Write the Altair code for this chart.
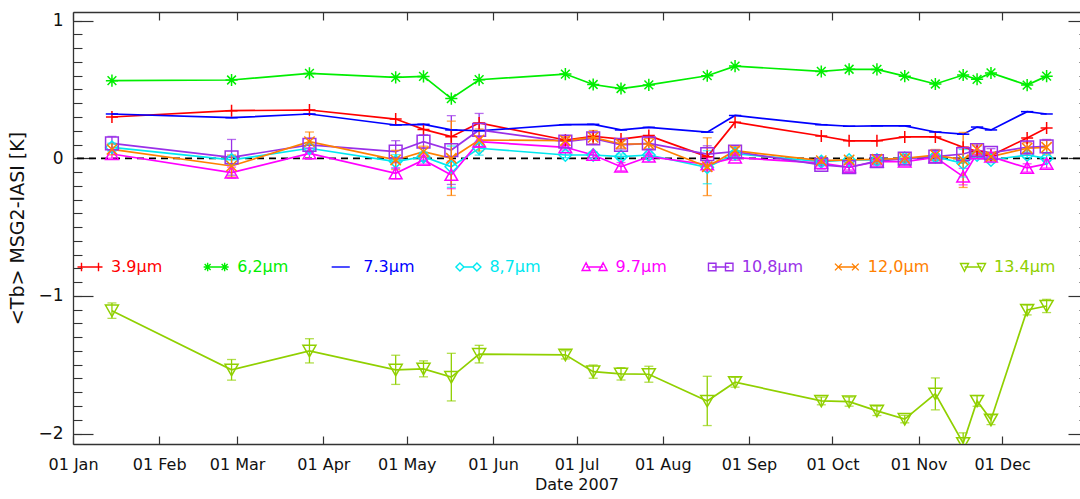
import altair as alt
import pandas as pd

# ---------------- data ----------------
DATES = ["2007-01-15", "2007-02-27", "2007-03-27", "2007-04-27", "2007-05-07",
         "2007-05-17", "2007-05-27", "2007-06-27", "2007-07-07", "2007-07-17",
         "2007-07-27", "2007-08-17", "2007-08-27", "2007-09-27", "2007-10-07",
         "2007-10-17", "2007-10-27", "2007-11-07", "2007-11-17", "2007-11-22",
         "2007-11-27", "2007-12-10", "2007-12-17"]

SERIES = ["3.9\u03bcm", "6,2\u03bcm", "7.3\u03bcm", "8,7\u03bcm",
          "9.7\u03bcm", "10,8\u03bcm", "12,0\u03bcm", "13.4\u03bcm"]

TB_39 = [0.300, 0.346, 0.351, 0.285, 0.210, 0.157, 0.257, 0.133, 0.160, 0.140,
         0.165, 0.012, 0.262, 0.162, 0.127, 0.127, 0.155, 0.155, 0.080, 0.050,
         0.020, 0.148, 0.220]
TB_62 = [0.564, 0.569, 0.617, 0.588, 0.595, 0.434, 0.571, 0.612, 0.536, 0.507,
         0.533, 0.600, 0.670, 0.631, 0.647, 0.646, 0.597, 0.540, 0.605, 0.574,
         0.620, 0.532, 0.597]
TB_73 = [0.322, 0.295, 0.322, 0.242, 0.247, 0.206, 0.200, 0.244, 0.247, 0.206,
         0.225, 0.190, 0.311, 0.244, 0.233, 0.236, 0.236, 0.191, 0.175, 0.227,
         0.206, 0.339, 0.322]
TB_87 = [0.080, -0.012, 0.073, -0.024, 0.012, -0.061, 0.073, 0.024, 0.024, 0.012,
         0.024, -0.065, 0.033, -0.024, -0.012, -0.012, 0.000, 0.012, -0.036, 0.024,
         -0.012, 0.024, 0.000]
TB_97 = [0.031, -0.104, 0.036, -0.109, -0.012, -0.121, 0.121, 0.080, 0.024, -0.061,
         0.012, -0.045, 0.005, -0.035, -0.065, -0.024, -0.024, 0.007, -0.133, 0.036,
         0.012, -0.070, -0.040]
TB_108 = [0.109, 0.007, 0.097, 0.048, 0.121, 0.060, 0.206, 0.121, 0.145, 0.097,
          0.109, 0.031, 0.048, -0.048, -0.065, -0.020, -0.003, 0.012, 0.031, 0.060,
          0.040, 0.080, 0.087]
TB_120 = [0.065, -0.056, 0.121, -0.012, 0.048, 0.000, 0.133, 0.128, 0.152, 0.104,
          0.104, -0.061, 0.055, -0.017, -0.012, -0.007, 0.000, 0.024, -0.012, 0.065,
          0.012, 0.073, 0.080]
TB_134 = [-1.107, -1.537, -1.399, -1.537, -1.530, -1.590, -1.423, -1.428, -1.550, -1.566,
          -1.569, -1.763, -1.627, -1.763, -1.768, -1.835, -1.895, -1.712, -2.070, -1.763,
          -1.900, -1.102, -1.073]

ERR_87 = [0.03, 0.03, 0.03, 0.05, 0.03, 0.15, 0.05, 0.02, 0.02, 0.02, 0.02, 0.12,
          0.02, 0.02, 0.02, 0.02, 0.02, 0.02, 0.10, 0.02, 0.02, 0.02, 0.02]
ERR_97 = [0.03, 0.04, 0.04, 0.04, 0.03, 0.10, 0.04, 0.02, 0.02, 0.03, 0.02, 0.05,
          0.02, 0.02, 0.02, 0.02, 0.02, 0.02, 0.06, 0.02, 0.02, 0.03, 0.03]
ERR_108 = [0.05, 0.13, 0.05, 0.08, 0.05, 0.25, 0.12, 0.03, 0.04, 0.03, 0.04, 0.06,
           0.03, 0.03, 0.03, 0.03, 0.03, 0.04, 0.05, 0.03, 0.03, 0.04, 0.05]
ERR_120 = [0.04, 0.08, 0.07, 0.07, 0.04, 0.27, 0.08, 0.03, 0.05, 0.03, 0.04, 0.21,
           0.03, 0.02, 0.02, 0.03, 0.03, 0.04, 0.20, 0.04, 0.03, 0.04, 0.05]
ERR_134 = [0.056, 0.075, 0.088, 0.106, 0.058, 0.173, 0.064, 0.030, 0.048, 0.045,
           0.058, 0.179, 0.036, 0.028, 0.033, 0.034, 0.027, 0.116, 0.075, 0.039,
           0.035, 0.036, 0.048]

VALUES = [TB_39, TB_62, TB_73, TB_87, TB_97, TB_108, TB_120, TB_134]
ERRORS = [None, None, None, ERR_87, ERR_97, ERR_108, ERR_120, ERR_134]

ZERO_LINE = [0.0]
Y_MAJOR = [-2, -1, 0, 1]
Y_MINOR = [-2.0, -1.9, -1.8, -1.7, -1.6, -1.5, -1.4, -1.3, -1.2, -1.1, -1.0,
           -0.9, -0.8, -0.7, -0.6, -0.5, -0.4, -0.3, -0.2, -0.1, 0.0,
           0.1, 0.2, 0.3, 0.4, 0.5, 0.6, 0.7, 0.8, 0.9, 1.0]

# ---------------- styles ----------------
COLORS = ["#ff0000", "#00ee00", "#0000ff", "#00e8f0",
          "#ff00ff", "#9a30e8", "#ff8000", "#90d000"]
MARKER_PATHS = [
    "M-1,0L1,0M0,-1L0,1",
    "M-1,0L1,0M0,-1L0,1M-0.72,-0.72L0.72,0.72M-0.72,0.72L0.72,-0.72",
    "M-1,0L1,0",
    "M-1,0L0,-1L1,0L0,1Z",
    "M-1,0.85L0,-0.9L1,0.85Z",
    "M-1,-1L1,-1L1,1L-1,1Z",
    "M-0.8,-0.8L0.8,0.8M-0.8,0.8L0.8,-0.8",
    "M-1,-0.85L1,-0.85L0,0.9Z",
]
MARKER_SIZES = [144, 170, 64, 90, 100, 90, 100, 110]
MARKER_WIDTHS = [1.5, 1.5, 3.5, 1.4, 1.4, 1.4, 1.5, 1.4]
LEGEND_PATHS = [
    "M-1,0L1,0M-0.68,-0.34L-0.68,0.34M0.68,-0.34L0.68,0.34",
    "M-1,0L1,0M-0.68,-0.34L-0.68,0.34M-0.92,-0.24L-0.44,0.24M-0.92,0.24L-0.44,-0.24"
    "M0.68,-0.34L0.68,0.34M0.44,-0.24L0.92,0.24M0.44,0.24L0.92,-0.24",
    "M-0.85,0L0.6,0",
    "M-0.36,0L0.36,0M-1,0L-0.68,-0.32L-0.36,0L-0.68,0.32ZM0.36,0L0.68,-0.32L1,0L0.68,0.32Z",
    "M-0.68,0L0.68,0M-1,0.28L-0.68,-0.34L-0.36,0.28ZM0.36,0.28L0.68,-0.34L1,0.28Z",
    "M-0.68,0L0.68,0M-0.98,-0.3L-0.38,-0.3L-0.38,0.3L-0.98,0.3ZM0.38,-0.3L0.98,-0.3L0.98,0.3L0.38,0.3Z",
    "M-0.68,0L0.68,0M-0.95,-0.27L-0.41,0.27M-0.95,0.27L-0.41,-0.27M0.41,-0.27L0.95,0.27M0.41,0.27L0.95,-0.27",
    "M-0.68,0L0.68,0M-1,-0.28L-0.36,-0.28L-0.68,0.34ZM0.36,-0.28L1,-0.28L0.68,0.34Z",
]

FONT = "DejaVu Sans"
AX = "#333333"
W, H = 1007, 432

# ---------------- tables ----------------
rows, err_rows, cap_rows = [], [], []
for s, vals, errs in zip(SERIES, VALUES, ERRORS):
    for i, (d, v) in enumerate(zip(DATES, vals)):
        rows.append({"date": d, "series": s, "value": v})
        if errs is not None:
            lo, hi = v - errs[i], v + errs[i]
            err_rows.append({"date": d, "series": s, "lo": lo, "hi": hi})
            cap_rows.append({"date": d, "series": s, "end": lo})
            cap_rows.append({"date": d, "series": s, "end": hi})
df = pd.DataFrame(rows)
df_err = pd.DataFrame(err_rows)
df_cap = pd.DataFrame(cap_rows)
df_zero = pd.DataFrame({"ref": ZERO_LINE})
df_leg = pd.DataFrame({"series": SERIES})

MONTHS = [alt.DateTime(year=2007, month=m, date=1, utc=True) for m in range(1, 13)]
x_scale = alt.Scale(type="utc", nice=False,
                    domain=[alt.DateTime(year=2007, month=1, date=1, utc=True),
                            alt.DateTime(year=2007, month=12, date=29, utc=True)])
y_scale = alt.Scale(domain=[-2.076, 1.063], nice=False, zero=False)
color = alt.Color("series:N", scale=alt.Scale(domain=SERIES, range=COLORS), legend=None)

ax_x_labels = alt.Axis(orient="bottom", values=MONTHS, ticks=False, domain=True,
                       domainColor=AX, domainWidth=1.3, grid=False,
                       labelExpr="utcFormat(datum.value, '%d %b')", labelFlush=False,
                       labelOverlap=False, labelPadding=12, labelFontSize=16,
                       labelColor="#111111", labelFont=FONT,
                       title="Date 2007", titleFontSize=16, titleFontWeight="normal",
                       titleFont=FONT, titleColor="#111111", titlePadding=4)
ax_x_in_bottom = alt.Axis(orient="top", offset=-H, values=MONTHS, labels=False,
                          domain=False, ticks=True, tickSize=8, tickColor=AX,
                          tickWidth=1.2, grid=False, title=None)
ax_x_in_top = alt.Axis(orient="bottom", offset=-H, values=MONTHS, labels=False,
                       domain=True, domainColor=AX, domainWidth=1.3, ticks=True,
                       tickSize=8, tickColor=AX, tickWidth=1.2, grid=False, title=None)
ax_y_labels = alt.Axis(orient="left", values=Y_MAJOR, ticks=False, domain=True,
                       domainColor=AX, domainWidth=1.3, grid=False, labelPadding=10,
                       labelFontSize=17, labelColor="#111111", labelFont=FONT,
                       labelFlush=False, title="<Tb> MSG2-IASI [K]", titleFontSize=19,
                       titleFontWeight="normal", titleFont=FONT, titleColor="#111111",
                       titlePadding=10)
ax_y_major_left = alt.Axis(orient="right", offset=-W, values=Y_MAJOR, labels=False,
                           domain=False, ticks=True, tickSize=20, tickColor=AX,
                           tickWidth=1.2, grid=False, title=None)
ax_y_minor_left = alt.Axis(orient="right", offset=-W, values=Y_MINOR, labels=False,
                           domain=False, ticks=True, tickSize=9, tickColor=AX,
                           tickWidth=1.1, grid=False, title=None)
ax_y_major_right = alt.Axis(orient="left", offset=-(W + 8), values=Y_MAJOR, labels=False,
                            domain=False, ticks=True, tickSize=20, tickColor=AX,
                            tickWidth=1.2, grid=False, title=None)
ax_y_minor_right = alt.Axis(orient="left", offset=-(W + 8), values=Y_MINOR, labels=False,
                            domain=False, ticks=True, tickSize=9, tickColor=AX,
                            tickWidth=1.1, grid=False, title=None)

zero = alt.Chart(df_zero).mark_rule(strokeDash=[7, 5], color="black", strokeWidth=1.7).encode(
    y=alt.Y("ref:Q", scale=y_scale, axis=ax_y_minor_right))

lines = alt.Chart(df).mark_line(strokeWidth=1.7, clip=True).encode(
    x=alt.X("date:T", scale=x_scale, axis=ax_x_labels),
    y=alt.Y("value:Q", scale=y_scale, axis=ax_y_labels),
    color=color)

errbars = alt.Chart(df_err).mark_rule(strokeWidth=1.3, clip=True).encode(
    x=alt.X("date:T", scale=x_scale, axis=ax_x_in_bottom),
    y=alt.Y("lo:Q", scale=y_scale, axis=ax_y_major_left),
    y2="hi:Q",
    color=color)

caps = alt.Chart(df_cap).mark_tick(orient="horizontal", size=9, thickness=1.3, clip=True).encode(
    x=alt.X("date:T", scale=x_scale, axis=ax_x_in_top),
    y=alt.Y("end:Q", scale=y_scale, axis=ax_y_minor_left),
    color=color)

points = alt.Chart(df).mark_point(filled=False, opacity=1, clip=True).encode(
    x=alt.X("date:T", scale=x_scale, axis=None),
    y=alt.Y("value:Q", scale=y_scale, axis=ax_y_major_right),
    color=color,
    shape=alt.Shape("series:N", scale=alt.Scale(domain=SERIES, range=MARKER_PATHS), legend=None),
    size=alt.Size("series:N", scale=alt.Scale(domain=SERIES, range=MARKER_SIZES), legend=None),
    strokeWidth=alt.StrokeWidth("series:N", scale=alt.Scale(domain=SERIES, range=MARKER_WIDTHS),
                                legend=None))

inner = alt.layer(zero, lines, errbars, caps, points).resolve_axis(
    x="independent", y="independent").properties(width=W, height=H)

leg_x = alt.X("series:N", scale=alt.Scale(type="point", domain=SERIES, range=[17, 900], padding=0),
              axis=None)
leg_sym = alt.Chart(df_leg).mark_point(filled=False, size=625, opacity=1, strokeWidth=1.4).encode(
    x=leg_x, y=alt.value(255), color=color,
    shape=alt.Shape("series:N", scale=alt.Scale(domain=SERIES, range=LEGEND_PATHS), legend=None))
leg_txt = alt.Chart(df_leg).mark_text(align="left", baseline="middle", dx=21, fontSize=16,
                                      font=FONT).encode(
    x=leg_x, y=alt.value(255), text="series:N", color=color)

chart = alt.layer(inner, leg_sym, leg_txt).resolve_scale(
    x="independent", shape="independent").properties(
    width=W, height=H,
    autosize=alt.AutoSizeParams(type="none"),
    padding={"left": 73, "top": 12, "right": 0, "bottom": 55},
    background="white",
).configure_view(stroke=None)

chart.save("out.html", embed_options={"renderer": "svg", "actions": False})
